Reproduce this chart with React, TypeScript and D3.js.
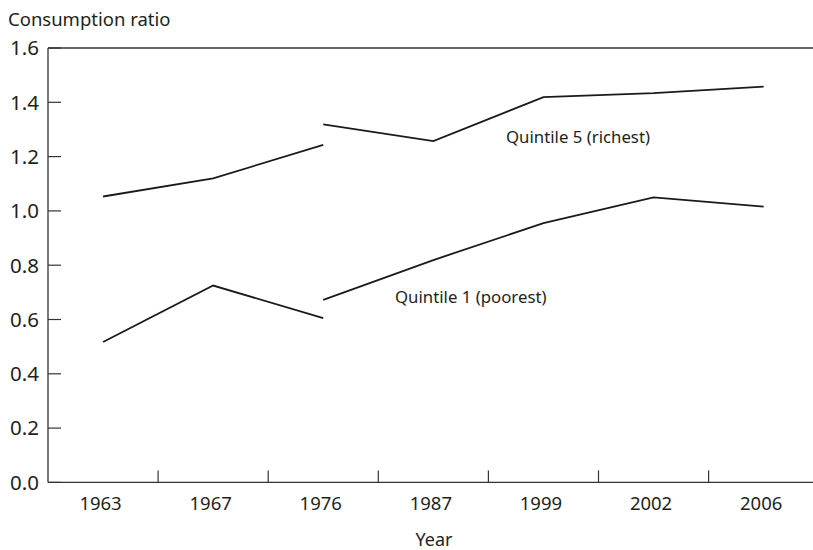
import React from "react";
import * as d3 from "d3";

const years = ["1963", "1967", "1976", "1987", "1999", "2002", "2006"];
const yTicks = [0, 0.2, 0.4, 0.6, 0.8, 1.0, 1.2, 1.4, 1.6];

// Survey break at 1976: two segments per series
const periodA = ["1963", "1967", "1976"];
const periodB = ["1976", "1987", "1999", "2002", "2006"];
const q5A = [1.053, 1.12, 1.243];
const q5B = [1.319, 1.257, 1.419, 1.434, 1.458];
const q1A = [0.517, 0.725, 0.605];
const q1B = [0.672, 0.819, 0.955, 1.05, 1.016];

const W = 813;
const H = 550;
const left = 48;
const top = 48;
const bottom = 482.4;
const step = 110.1;

export default function App() {
  const x = d3
    .scaleBand<string>()
    .domain(years)
    .range([left, left + step * years.length])
    .paddingInner(0)
    .paddingOuter(0);
  const y = d3.scaleLinear().domain([0, 1.6]).range([bottom, top]);
  const cx = (yr: string) => (x(yr) as number) + x.bandwidth() / 2;

  const line = d3
    .line<[string, number]>()
    .x((d) => cx(d[0]))
    .y((d) => y(d[1]));

  const segs: [string[], number[]][] = [
    [periodA, q5A],
    [periodB, q5B],
    [periodA, q1A],
    [periodB, q1B],
  ];

  const textColor = "#231f20";
  const axisColor = "#333";
  const font = "'Noto Sans', sans-serif";

  return (
    <svg
      width={W}
      height={H}
      style={{ position: "absolute", left: 0, top: 0, background: "#fff" }}
      fontFamily={font}
    >
      <rect x={0} y={0} width={W} height={H} fill="#fff" />
      <text x={8} y={25.5} fontSize={18.5} fill={textColor}>
        Consumption ratio
      </text>
      {/* frame */}
      <line x1={left} x2={W} y1={top} y2={top} stroke={axisColor} strokeWidth={1.3} />
      <line x1={left} x2={left} y1={top} y2={bottom} stroke={axisColor} strokeWidth={1.3} />
      <line x1={left} x2={W} y1={bottom} y2={bottom} stroke={axisColor} strokeWidth={1.3} />
      {/* y ticks */}
      {yTicks.map((t) => (
        <g key={t}>
          <line x1={left} x2={left + 13} y1={y(t)} y2={y(t)} stroke={axisColor} strokeWidth={1.2} />
          <text
            x={39}
            y={y(t) + 7.3}
            textAnchor="end"
            fontSize={20.5}
            fill={textColor}
          >
            {t.toFixed(1)}
          </text>
        </g>
      ))}
      {/* x ticks at band boundaries */}
      {years.slice(1).map((yr) => (
        <line
          key={yr}
          x1={x(yr) as number}
          x2={x(yr) as number}
          y1={bottom}
          y2={bottom - 12}
          stroke={axisColor}
          strokeWidth={1.2}
        />
      ))}
      {years.map((yr) => (
        <text
          key={yr}
          x={cx(yr) - 2.5}
          y={510}
          textAnchor="middle"
          fontSize={18.5}
          fill={textColor}
        >
          {yr}
        </text>
      ))}
      <text x={434} y={546} textAnchor="middle" fontSize={18} fill={textColor}>
        Year
      </text>
      {/* lines */}
      {segs.map(([yrs, vals], i) => (
        <path
          key={i}
          d={line(yrs.map((yr, j) => [yr, vals[j]] as [string, number])) || ""}
          fill="none"
          stroke="#1a1a1a"
          strokeWidth={1.8}
        />
      ))}
      <text x={506} y={142.5} fontSize={16.8} fill={textColor}>
        Quintile 5 (richest)
      </text>
      <text x={395} y={302.5} fontSize={16.8} fill={textColor}>
        Quintile 1 (poorest)
      </text>
    </svg>
  );
}
